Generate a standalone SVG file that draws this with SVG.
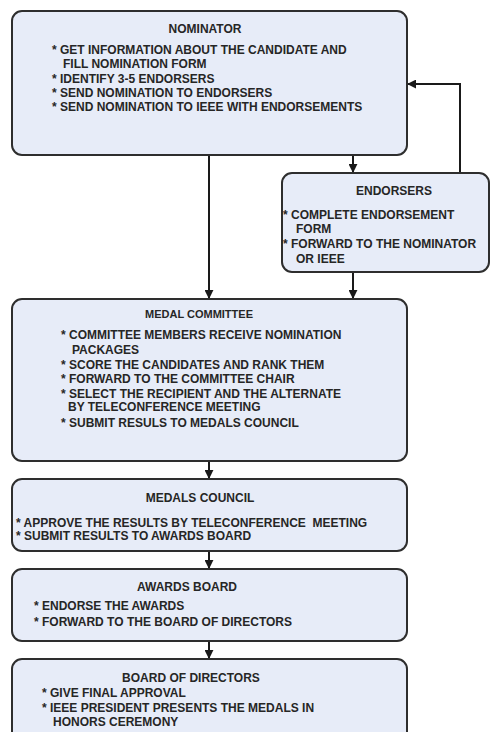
<svg xmlns="http://www.w3.org/2000/svg" width="491" height="732" viewBox="0 0 491 732">
<defs>
<marker id="ah" viewBox="0 0 10 10" refX="9" refY="5" markerWidth="4.5" markerHeight="4.5" orient="auto" markerUnits="strokeWidth">
<path d="M0,0 L10,5 L0,10 z" fill="#1a1a1a"/>
</marker>
<style>
.box{fill:#e7ecf8;stroke:#2e2e2e;stroke-width:2}
.t{font-family:"Liberation Sans",Arial,sans-serif;font-weight:bold;font-size:12px;fill:#262626}
.c{text-anchor:middle}
.ln{stroke:#1a1a1a;stroke-width:2;fill:none}
</style>
</defs>
<rect width="491" height="732" fill="#ffffff"/>
<g id="connectors">
<line class="ln" x1="209" y1="156" x2="209" y2="298" marker-end="url(#ah)"/>
<line class="ln" x1="353" y1="156" x2="353" y2="172" marker-end="url(#ah)"/>
<line class="ln" x1="353" y1="273" x2="353" y2="298" marker-end="url(#ah)"/>
<polyline class="ln" points="460,173 460,84 408,84" marker-end="url(#ah)"/>
<line class="ln" x1="209" y1="462" x2="209" y2="478" marker-end="url(#ah)"/>
<line class="ln" x1="209" y1="552" x2="209" y2="568" marker-end="url(#ah)"/>
<line class="ln" x1="209" y1="642" x2="209" y2="658" marker-end="url(#ah)"/>
</g>
<g id="nominator">
<rect class="box" x="12" y="11" width="395" height="144" rx="10"/>
<text class="t c" x="205" y="33">NOMINATOR</text>
<text class="t" x="52" y="54">* GET INFORMATION ABOUT THE CANDIDATE AND</text>
<text class="t" x="63" y="68">FILL NOMINATION FORM</text>
<text class="t" x="52" y="83">* IDENTIFY 3-5 ENDORSERS</text>
<text class="t" x="52" y="97">* SEND NOMINATION TO ENDORSERS</text>
<text class="t" x="52" y="111">* SEND NOMINATION TO IEEE WITH ENDORSEMENTS</text>
</g>
<g id="endorsers">
<rect class="box" x="282" y="173" width="207" height="99" rx="10"/>
<text class="t c" x="394" y="195">ENDORSERS</text>
<text class="t" x="283" y="219">* COMPLETE ENDORSEMENT</text>
<text class="t" x="296" y="233">FORM</text>
<text class="t" x="283" y="248">* FORWARD TO THE NOMINATOR</text>
<text class="t" x="296" y="263">OR IEEE</text>
</g>
<g id="medal-committee">
<rect class="box" x="12" y="299" width="395" height="162" rx="10"/>
<text class="t c" x="199" y="318" style="font-size:11px">MEDAL COMMITTEE</text>
<text class="t" x="61" y="339">* COMMITTEE MEMBERS RECEIVE NOMINATION</text>
<text class="t" x="72" y="354">PACKAGES</text>
<text class="t" x="61" y="369">* SCORE THE CANDIDATES AND RANK THEM</text>
<text class="t" x="61" y="383">* FORWARD TO THE COMMITTEE CHAIR</text>
<text class="t" x="61" y="398">* SELECT THE RECIPIENT AND THE ALTERNATE</text>
<text class="t" x="68" y="411">BY TELECONFERENCE MEETING</text>
<text class="t" x="61" y="427">* SUBMIT RESULS TO MEDALS COUNCIL</text>
</g>
<g id="medals-council">
<rect class="box" x="12" y="479" width="395" height="72" rx="10"/>
<text class="t c" x="200" y="502">MEDALS COUNCIL</text>
<text class="t" x="16" y="527" xml:space="preserve" style="white-space:pre">* APPROVE THE RESULTS BY TELECONFERENCE  MEETING</text>
<text class="t" x="16" y="540">* SUBMIT RESULTS TO AWARDS BOARD</text>
</g>
<g id="awards-board">
<rect class="box" x="12" y="569" width="395" height="72" rx="10"/>
<text class="t c" x="187" y="591">AWARDS BOARD</text>
<text class="t" x="34" y="610">* ENDORSE THE AWARDS</text>
<text class="t" x="34" y="626">* FORWARD TO THE BOARD OF DIRECTORS</text>
</g>
<g id="board-of-directors">
<rect class="box" x="12" y="659" width="395" height="100" rx="10"/>
<text class="t c" x="191" y="682">BOARD OF DIRECTORS</text>
<text class="t" x="42" y="697">* GIVE FINAL APPROVAL</text>
<text class="t" x="42" y="712">* IEEE PRESIDENT PRESENTS THE MEDALS IN</text>
<text class="t" x="53" y="726">HONORS CEREMONY</text>
</g>
</svg>
